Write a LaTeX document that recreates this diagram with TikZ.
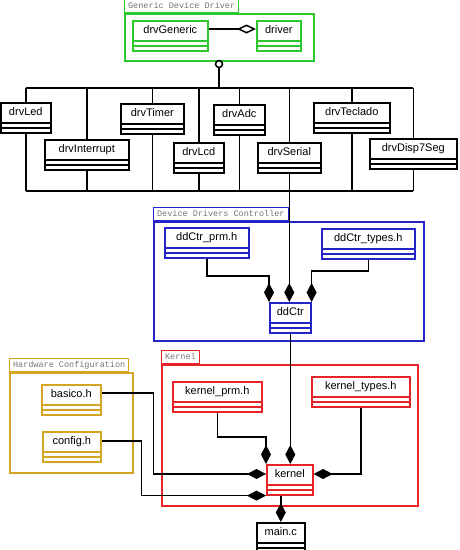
\documentclass[tikz,border=0pt]{standalone}
\usepackage{fontspec}
\setmainfont{Liberation Sans}
\setmonofont{Liberation Mono}
\usetikzlibrary{arrows.meta, positioning, backgrounds}
\definecolor{colorGeneric}{RGB}{45,200,45}
\definecolor{colorCtrl}{RGB}{35,35,200}
\definecolor{colorKernel}{RGB}{230,35,40}
\definecolor{colorHw}{RGB}{212,165,35}
\tikzset{
  umlclass/.style={draw=#1, fill=white, line width=1.6pt, anchor=north west, inner sep=0pt,
    minimum height=30pt, text height=8pt, text depth=12pt, font=\fontsize{11}{13}\selectfont,
    path picture={\draw[#1, line width=1.6pt]
      ([yshift=10pt]path picture bounding box.south west) -- ([yshift=10pt]path picture bounding box.south east)
      ([yshift=5pt]path picture bounding box.south west) -- ([yshift=5pt]path picture bounding box.south east);}},
  umlclass/.default=black,
  pkgtab/.style={draw=#1, line width=1.2pt, anchor=south west, inner xsep=3.5pt, inner ysep=1pt,
    minimum height=13pt, font=\ttfamily\fontsize{8.5}{9}\selectfont, text=black!55},
  pkgbox/.style={draw=#1, line width=1.6pt, anchor=north west, inner sep=0pt},
  bus/.style={line width=1.5pt},
  comp/.style={-{Diamond[length=19pt, width=10pt]}, line width=1.5pt},
  aggr/.style={-{Diamond[open, fill=white, length=19pt, width=9pt]}, line width=1.5pt}
}
\begin{document}
\begin{tikzpicture}[x=1pt, y=-1pt]
\useasboundingbox (0,0) rectangle (460,550);
\node[pkgbox=colorGeneric, minimum width=189pt, minimum height=47pt] (genPkg) at (124,13) {};
\node[pkgtab=colorGeneric] (genTab) at (genPkg.north west) {Generic Device Driver};
\node[pkgbox=colorCtrl, minimum width=270pt, minimum height=119pt] (ctrlPkg) at (153,221) {};
\node[pkgtab=colorCtrl] (ctrlTab) at (ctrlPkg.north west) {Device Drivers Controller};
\node[pkgbox=colorKernel, minimum width=256pt, minimum height=141pt] (kernelPkg) at (161,364) {};
\node[pkgtab=colorKernel] (kernelTab) at (kernelPkg.north west) {Kernel};
\node[pkgbox=colorHw, minimum width=123pt, minimum height=100pt] (hwPkg) at (9,372) {};
\node[pkgtab=colorHw] (hwTab) at (hwPkg.north west) {Hardware Configuration};

\node[umlclass=colorGeneric, minimum width=75pt] (gen) at (132,20) {drvGeneric};
\node[umlclass=colorGeneric, minimum width=44pt] (drv) at (256,20) {driver};
\node[circle, draw, line width=1.5pt, minimum size=7pt, inner sep=0pt] (iface) at (219,64) {};

\node[umlclass, minimum width=50pt] (led) at (0,102) {drvLed};
\node[umlclass, minimum width=84pt] (intr) at (44,139) {drvInterrupt};
\node[umlclass, minimum width=63pt] (timer) at (120,103) {drvTimer};
\node[umlclass, minimum width=50pt] (lcd) at (173,142) {drvLcd};
\node[umlclass, minimum width=51pt] (adc) at (213,104) {drvAdc};
\node[umlclass, minimum width=63pt] (serial) at (257,142) {drvSerial};
\node[umlclass, minimum width=76pt] (tecl) at (313,102) {drvTeclado};
\node[umlclass, minimum width=87pt] (disp) at (369,138) {drvDisp7Seg};

\node[umlclass=colorCtrl, minimum width=84pt] (ddprm) at (164,227) {ddCtr\_prm.h};
\node[umlclass=colorCtrl, minimum width=93pt] (ddtyp) at (321,228) {ddCtr\_types.h};
\node[umlclass=colorCtrl, minimum width=41pt] (ddctr) at (269,302) {ddCtr};

\node[umlclass=colorKernel, minimum width=89pt] (kprm) at (172,381) {kernel\_prm.h};
\node[umlclass=colorKernel, minimum width=98pt] (ktyp) at (311,376) {kernel\_types.h};
\node[umlclass=colorKernel, minimum width=46pt] (kernel) at (266,464) {kernel};

\node[umlclass=colorHw, minimum width=59pt] (hwbas) at (41,384) {basico.h};
\node[umlclass=colorHw, minimum width=58pt] (hwcfg) at (42,431) {config.h};

\node[umlclass, minimum width=48pt] (mainc) at (256,522) {main.c};

\begin{scope}[on background layer]
\draw[bus] (led.center |- 0,88) -- (disp.center |- 0,88);
\draw[bus] (led.center |- 0,191) -- (disp.center |- 0,191);
\foreach \c in {led,intr,timer,lcd,adc,serial,tecl,disp}
  \draw[bus] (\c.center |- 0,88) -- (\c.center |- 0,191);
\end{scope}
\coordinate (busOut) at (serial.center |- 0,191);

\draw[aggr] ([yshift=-9pt]gen.north east) -- ([yshift=-9pt]drv.north west);
\draw[bus] (iface) -- (iface |- 0,88);
\draw[comp] (busOut) -- (busOut |- ddctr.north);
\draw[comp] (ddprm.south) -- (ddprm.south |- 0,276) -| (ddctr.north west);
\draw[comp] (ddtyp.south) -- (ddtyp.south |- 0,271) -| (ddctr.north east);
\draw[comp] (ddctr.south) -- (ddctr.south |- kernel.north);
\draw[comp] (kprm.south) -- (kprm.south |- 0,437) -| (kernel.north west);
\draw[comp] (ktyp.south) |- ([yshift=-10pt]kernel.north east);
\draw[comp] ([yshift=-9pt]hwbas.north east) -- ++(52,0) |- ([yshift=-10pt]kernel.north west);
\draw[comp] ([yshift=-10pt]hwcfg.north east) -- ++(40,0) |- (kernel.south west);
\draw[comp] (mainc.north |- kernel.south) -- (mainc.north);
\end{tikzpicture}
\end{document}
